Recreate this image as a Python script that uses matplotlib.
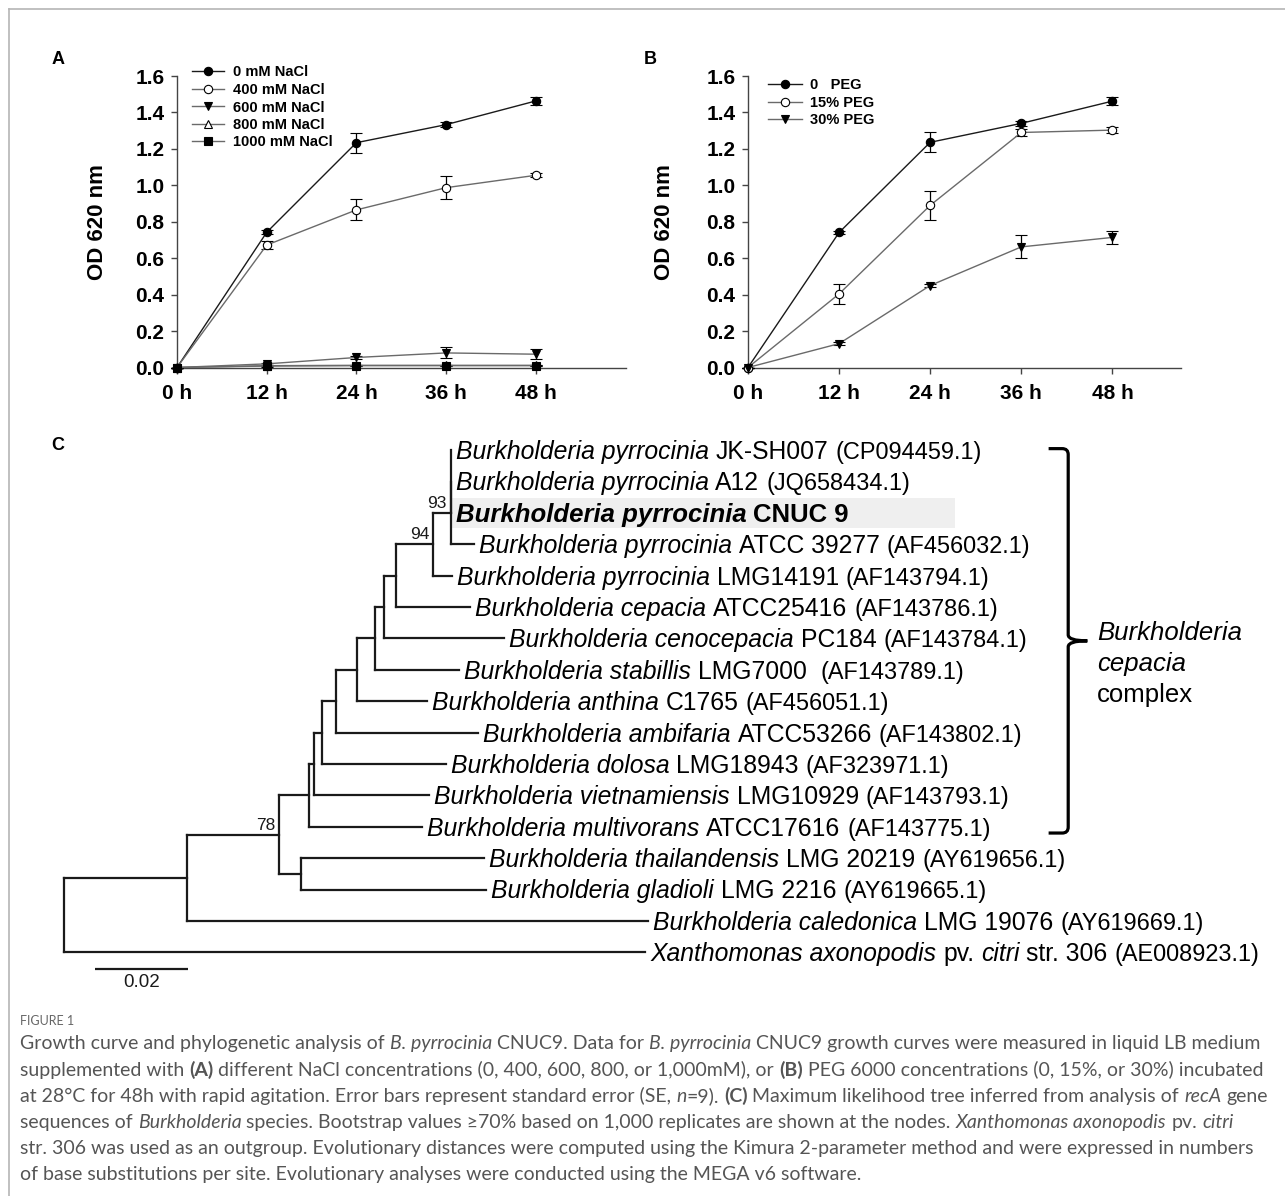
import re
import numpy as np
import matplotlib
matplotlib.use("Agg")
import matplotlib.pyplot as plt
from matplotlib.collections import LineCollection
from matplotlib.lines import Line2D
from matplotlib.patches import Rectangle, PathPatch
from matplotlib.path import Path
from matplotlib.transforms import IdentityTransform

plt.rcParams["font.family"] = ["Liberation Sans", "DejaVu Sans"]

# growth curves (panels A and B)
hours = [0, 12, 24, 36, 48]
hour_labels = ["0 h", "12 h", "24 h", "36 h", "48 h"]

nacl_labels = ["0 mM NaCl", "400 mM NaCl", "600 mM NaCl", "800 mM NaCl", "1000 mM NaCl"]
nacl_od = [
    [0.0, 0.742, 1.234, 1.333, 1.463],
    [0.0, 0.672, 0.865, 0.987, 1.055],
    [0.0, 0.020, 0.055, 0.080, 0.073],
    [0.0, 0.010, 0.012, 0.012, 0.012],
    [0.0, 0.008, 0.010, 0.010, 0.010],
]
nacl_se = [
    [0.0, 0.010, 0.055, 0.015, 0.020],
    [0.0, 0.020, 0.058, 0.064, 0.012],
    [0.0, 0.006, 0.010, 0.030, 0.028],
    [0.0, 0.004, 0.004, 0.004, 0.004],
    [0.0, 0.004, 0.004, 0.004, 0.004],
]

peg_labels = ["0   PEG", "15% PEG", "30% PEG"]
peg_od = [
    [0.0, 0.741, 1.236, 1.340, 1.462],
    [0.0, 0.404, 0.890, 1.290, 1.303],
    [0.0, 0.131, 0.450, 0.662, 0.714],
]
peg_se = [
    [0.0, 0.010, 0.055, 0.015, 0.020],
    [0.0, 0.057, 0.080, 0.020, 0.015],
    [0.0, 0.008, 0.008, 0.063, 0.035],
]

# recA maximum likelihood tree (panel C), branch lengths in substitutions/site
newick = ("((((((((((((((s0:0,s1:0,s2:0):0,s3:0.0050)93:0.0037,s4:0.0040)94:0.0080,"
          "s5:0.0159):0.0025,s6:0.0257):0.0020,s7:0.0180):0.0039,s8:0.0150):0.0044,"
          "s9:0.0304):0.0031,s10:0.0266):0.0016,s11:0.0246):0.0011,s12:0.0242):0.0064,"
          "(s13:0.0392,s14:0.0397):0.0047)78:0.0197,s15:0.0988):0.0264,s16:0.1245);")

leaf_labels = [
    "*Burkholderia pyrrocinia* JK-SH007 [(CP094459.1)]",
    "*Burkholderia pyrrocinia* A12 [(JQ658434.1)]",
    "***Burkholderia pyrrocinia*** **CNUC 9**",
    "*Burkholderia pyrrocinia* ATCC 39277 [(AF456032.1)]",
    "*Burkholderia pyrrocinia* LMG14191 [(AF143794.1)]",
    "*Burkholderia cepacia* ATCC25416 [(AF143786.1)]",
    "*Burkholderia cenocepacia* PC184 [(AF143784.1)]",
    "*Burkholderia stabillis* LMG7000  [(AF143789.1)]",
    "*Burkholderia anthina* C1765 [(AF456051.1)]",
    "*Burkholderia ambifaria* ATCC53266 [(AF143802.1)]",
    "*Burkholderia dolosa* LMG18943 [(AF323971.1)]",
    "*Burkholderia vietnamiensis* LMG10929 [(AF143793.1)]",
    "*Burkholderia multivorans* ATCC17616 [(AF143775.1)]",
    "*Burkholderia thailandensis* LMG 20219 [(AY619656.1)]",
    "*Burkholderia gladioli* LMG 2216 [(AY619665.1)]",
    "*Burkholderia caledonica* LMG 19076 [(AY619669.1)]",
    "*Xanthomonas axonopodis* pv. *citri* str. 306 [(AE008923.1)]",
]
complex_label = ["*Burkholderia*", "*cepacia*", "complex"]
complex_rows = (0, 12)   # first and last leaf of the B. cepacia complex
highlight_row = 2
scale_length = 0.02

caption_title = "FIGURE 1"
caption_lines = [
    "Growth curve and phylogenetic analysis of *B. pyrrocinia* CNUC9. Data for *B. pyrrocinia* CNUC9 growth curves were measured in liquid LB medium",
    "supplemented with **(A)** different NaCl concentrations (0, 400, 600, 800, or 1,000mM), or **(B)** PEG 6000 concentrations (0, 15%, or 30%) incubated",
    "at 28°C for 48h with rapid agitation. Error bars represent standard error (SE, *n*=9). **(C)** Maximum likelihood tree inferred from analysis of *recA* gene",
    "sequences of *Burkholderia* species. Bootstrap values ≥70% based on 1,000 replicates are shown at the nodes. *Xanthomonas axonopodis* pv. *citri*",
    "str. 306 was used as an outgroup. Evolutionary distances were computed using the Kimura 2-parameter method and were expressed in numbers",
    "of base substitutions per site. Evolutionary analyses were conducted using the MEGA v6 software.",
]

W, H = 1285, 1196
fig = plt.figure(figsize=(W / 100, H / 100), dpi=100)
renderer = fig.canvas.get_renderer()
INK = "#1a1a1a"


def parse_markup(s):
    runs = []
    for part in re.split(r"(\*\*\*.+?\*\*\*|\*\*.+?\*\*|\*.+?\*|\[.+?\])", s):
        if not part:
            continue
        if part.startswith("***"):
            runs.append((part[3:-3], "bi"))
        elif part.startswith("**"):
            runs.append((part[2:-2], "b"))
        elif part.startswith("*"):
            runs.append((part[1:-1], "i"))
        elif part.startswith("["):
            runs.append((part[1:-1], "a"))
        else:
            runs.append((part, ""))
    return runs


_width_cache = {}


def text_width(s, props):
    key = (s, tuple(sorted((k, str(v)) for k, v in props.items())))
    if key not in _width_cache:
        t = fig.text(0, 0, s, transform=IdentityTransform(), **props)
        _width_cache[key] = t.get_window_extent(renderer).width
        t.remove()
    return _width_cache[key]


def advance(s, props):
    # pen advance of s, ignoring the ink overhang of the last glyph
    return text_width(s + "l", props) - text_width("l", props)


def run_props(style, size, family, color):
    p = dict(family=family, size=size, color=color,
             style="italic" if "i" in style else "normal",
             weight="bold" if "b" in style else "normal")
    if style == "a":
        p["size"] = size * 0.95
    return p


def draw_runs(x, y, runs, size, family, color, measure=False):
    # x, y in display pixels, y is the baseline
    for text, style in runs:
        props = run_props(style, size, family, color)
        sp = advance("a a", props) - advance("aa", props)
        body = text.strip(" ")
        if not body:
            x += len(text) * sp
            continue
        lead = len(text) - len(text.lstrip(" "))
        trail = len(text) - len(text.rstrip(" "))
        x += lead * sp
        if not measure:
            fig.text(x, y, body, transform=IdentityTransform(),
                     va="baseline", ha="left", **props)
        x += advance(body, props) + trail * sp
    return x


# ---------------- panel C: tree ----------------
X0_PX, PX_PER_UNIT = 64.3, 4665.0
ROW0_PX, ROW_PX = 450.2, 31.38
tax = fig.add_axes([0, 0, 1, 1])
tax.axis("off")
tax.set_xlim(-X0_PX / PX_PER_UNIT, (W - X0_PX) / PX_PER_UNIT)
tax.set_ylim((H - ROW0_PX) / ROW_PX, -ROW0_PX / ROW_PX)


def parse_newick(s):
    pos = 0

    def node():
        nonlocal pos
        children = []
        if s[pos] == "(":
            pos += 1
            children.append(node())
            while s[pos] == ",":
                pos += 1
                children.append(node())
            pos += 1
        m = re.match(r"([^:,();]*)(?::([0-9.eE-]+))?", s[pos:])
        pos += m.end()
        return {"name": m.group(1), "length": float(m.group(2) or 0),
                "children": children}

    return node()


def layout(nd, x0=0.0):
    nd["x"] = x0 + nd["length"]
    if nd["children"]:
        for c in nd["children"]:
            layout(c, nd["x"])
        nd["y"] = (nd["children"][0]["y"] + nd["children"][-1]["y"]) / 2
    else:
        nd["y"] = int(nd["name"][1:])


tree = parse_newick(newick)
layout(tree)

segs, leaves, inner = [], [], []


def collect(nd):
    if not nd["children"]:
        leaves.append(nd)
        return
    inner.append(nd)
    ys = [c["y"] for c in nd["children"]]
    segs.append([(nd["x"], min(ys)), (nd["x"], max(ys))])
    for c in nd["children"]:
        if c["x"] > nd["x"]:
            segs.append([(nd["x"], c["y"]), (c["x"], c["y"])])
        collect(c)


collect(tree)
tax.add_collection(LineCollection(segs, colors=INK, linewidths=1.6,
                                  capstyle="projecting", zorder=3))

for nd in inner:
    if nd["name"]:
        tax.annotate(nd["name"], (nd["x"], nd["y"]), xytext=(-4, 5),
                     textcoords="offset pixels", ha="right", va="baseline",
                     fontsize=12.5, color=INK)

# highlighted strain
hl_leaf = [lf for lf in leaves if lf["y"] == highlight_row][0]
tax.add_patch(Rectangle((hl_leaf["x"], highlight_row - 0.48), 0.191 - hl_leaf["x"], 0.96,
                        facecolor="#efefef", edgecolor="none", zorder=1))

LEAF_FS = 17.8
for lf in leaves:
    runs = parse_markup(leaf_labels[int(lf["name"][1:])])
    size = 18.5 if runs[0][1] == "bi" else LEAF_FS
    px, py = tax.transData.transform((lf["x"], lf["y"]))
    draw_runs(px + 5, py - 0.36 * size * 100 / 72, runs, size,
              ["Liberation Sans", "DejaVu Sans"], "black")

# scale bar
sb_x, sb_row = 0.0066, 16.54
tax.plot([sb_x, sb_x + scale_length], [sb_row, sb_row], color=INK, lw=1.6,
         solid_capstyle="butt")
tax.text(sb_x + scale_length / 2, sb_row + 0.42, f"{scale_length:.2f}",
         ha="center", va="center", fontsize=13.5, color=INK)

# curly bracket for the B. cepacia complex
bx0, bxv, bxt = 0.2110, 0.2152, 0.2193
rx, ry = 6 / PX_PER_UNIT, 6 / ROW_PX
top, bot = complex_rows[0] - 0.05, complex_rows[1] + 0.2
mid = (top + bot) / 2
verts = [(bx0, top), (bxv - rx, top), (bxv, top), (bxv, top + ry),
         (bxv, mid - ry), (bxv, mid), (bxt, mid),
         (bxt, mid), (bxv, mid), (bxv, mid + ry),
         (bxv, bot - ry), (bxv, bot), (bxv - rx, bot), (bx0, bot)]
codes = [Path.MOVETO, Path.LINETO, Path.CURVE3, Path.CURVE3,
         Path.LINETO, Path.CURVE3, Path.CURVE3,
         Path.MOVETO, Path.CURVE3, Path.CURVE3,
         Path.LINETO, Path.CURVE3, Path.CURVE3, Path.LINETO]
tax.add_patch(PathPatch(Path(verts, codes), facecolor="none", edgecolor="black",
                        lw=2.3, capstyle="butt"))
for k, s in enumerate(complex_label):
    px, py = tax.transData.transform((bxt + 2 / PX_PER_UNIT, mid - 0.33 + k))
    draw_runs(px + 8, py - 0.36 * 18.5 * 100 / 72, parse_markup(s), 18.5,
              ["Liberation Sans", "DejaVu Sans"], "black")

# ---------------- panels A and B ----------------
nacl_styles = [("o", "black", INK), ("o", "white", "#6a6a6a"), ("v", "black", "#6a6a6a"),
               ("^", "white", "#6a6a6a"), ("s", "black", "#6a6a6a")]
peg_styles = [("o", "black", INK), ("o", "white", "#6a6a6a"), ("v", "black", "#6a6a6a")]


def growth_panel(rect, od, se, labels, styles, xmax, ylab_x, leg_anchor, handlelen, textpad):
    ax = fig.add_axes(rect)
    handles = []
    for vals, errs, lab, (mk, fc, lc) in zip(od, se, labels, styles):
        ax.errorbar(hours, vals, yerr=errs, color=lc, lw=1.0, marker=mk, ms=6,
                    mfc=fc, mec="black", mew=0.8, ecolor="black", elinewidth=0.9,
                    capsize=4, capthick=0.9, clip_on=False, zorder=3)
        handles.append(Line2D([], [], color=lc, lw=1.0, marker=mk, ms=6, mfc=fc,
                              mec="black", mew=0.8, label=lab))
    ax.set_xlim(0, xmax)
    ax.set_ylim(0, 1.6)
    ax.set_xticks(hours)
    ax.set_xticklabels(hour_labels)
    ax.set_yticks(np.arange(0, 1.61, 0.2))
    ax.set_yticklabels([f"{v:.1f}" for v in np.arange(0, 1.61, 0.2)])
    for side in ("top", "right"):
        ax.spines[side].set_visible(False)
    for side in ("left", "bottom"):
        ax.spines[side].set_color("#444444")
        ax.spines[side].set_linewidth(1.0)
    ax.tick_params(axis="both", direction="out", length=4, width=1, color="#444444",
                   labelsize=15)
    ax.tick_params(axis="x", pad=8)
    ax.tick_params(axis="y", pad=5)
    plt.setp(ax.get_xticklabels() + ax.get_yticklabels(), fontweight="bold")
    ax.set_ylabel("OD 620 nm", fontsize=16, fontweight="bold")
    ax.yaxis.set_label_coords(ylab_x, 0.5)
    ax.legend(handles=handles, loc="upper left", frameon=False, numpoints=1,
              bbox_to_anchor=(leg_anchor[0] / W, 1 - leg_anchor[1] / H),
              bbox_transform=fig.transFigure, borderpad=0, borderaxespad=0,
              handlelength=handlelen, handletextpad=textpad, labelspacing=0.24,
              prop=dict(family="Liberation Sans", weight="bold", size=10.5))
    return ax


AX_BOTTOM, AX_TOP = 367.5, 76.0
axA = growth_panel([177 / W, 1 - AX_BOTTOM / H, (625.5 - 177) / W, (AX_BOTTOM - AX_TOP) / H],
                   nacl_od, nacl_se, nacl_labels, nacl_styles, 60,
                   -(177 - 108) / (625.5 - 177), (192, 65.5), 2.17, 0.64)
axB = growth_panel([748 / W, 1 - AX_BOTTOM / H, 432.7 / W, (AX_BOTTOM - AX_TOP) / H],
                   peg_od, peg_se, peg_labels, peg_styles, 57,
                   -(748 - 675) / 432.7, (767.7, 78.3), 2.37, 0.53)

for lab, (x, y) in zip("ABC", [(58, 60), (650, 59), (58, 445)]):
    fig.text(x / W, 1 - y / H, lab, ha="center", va="center", fontsize=13,
             fontweight="bold", color="black")

# figure frame (top and left rules)
fig.add_artist(Line2D([9 / W, 1], [1 - 9 / H, 1 - 9 / H], transform=fig.transFigure,
                      color="#b5b5b5", lw=1.2))
fig.add_artist(Line2D([9 / W, 9 / W], [0, 1 - 9 / H], transform=fig.transFigure,
                      color="#b5b5b5", lw=1.2))

# ---------------- caption ----------------
CAP_FAMILY = ["Lato", "DejaVu Sans"]
CAP_COLOR = "#555555"
ref = draw_runs(0, 0, parse_markup(caption_lines[0]), 10, CAP_FAMILY, CAP_COLOR, measure=True)
cap_fs = 10 * 1239 / ref
fig.text(20, H - 1021 - 0.33 * 9 * 100 / 72, caption_title, transform=IdentityTransform(),
         va="baseline", ha="left", family=CAP_FAMILY, size=9, color="#666666")
for k, line in enumerate(caption_lines):
    yc = 1043 + 26.2 * k
    draw_runs(20, H - yc - 0.33 * cap_fs * 100 / 72, parse_markup(line), cap_fs,
              CAP_FAMILY, CAP_COLOR)

fig.savefig("out.png", dpi=100)
